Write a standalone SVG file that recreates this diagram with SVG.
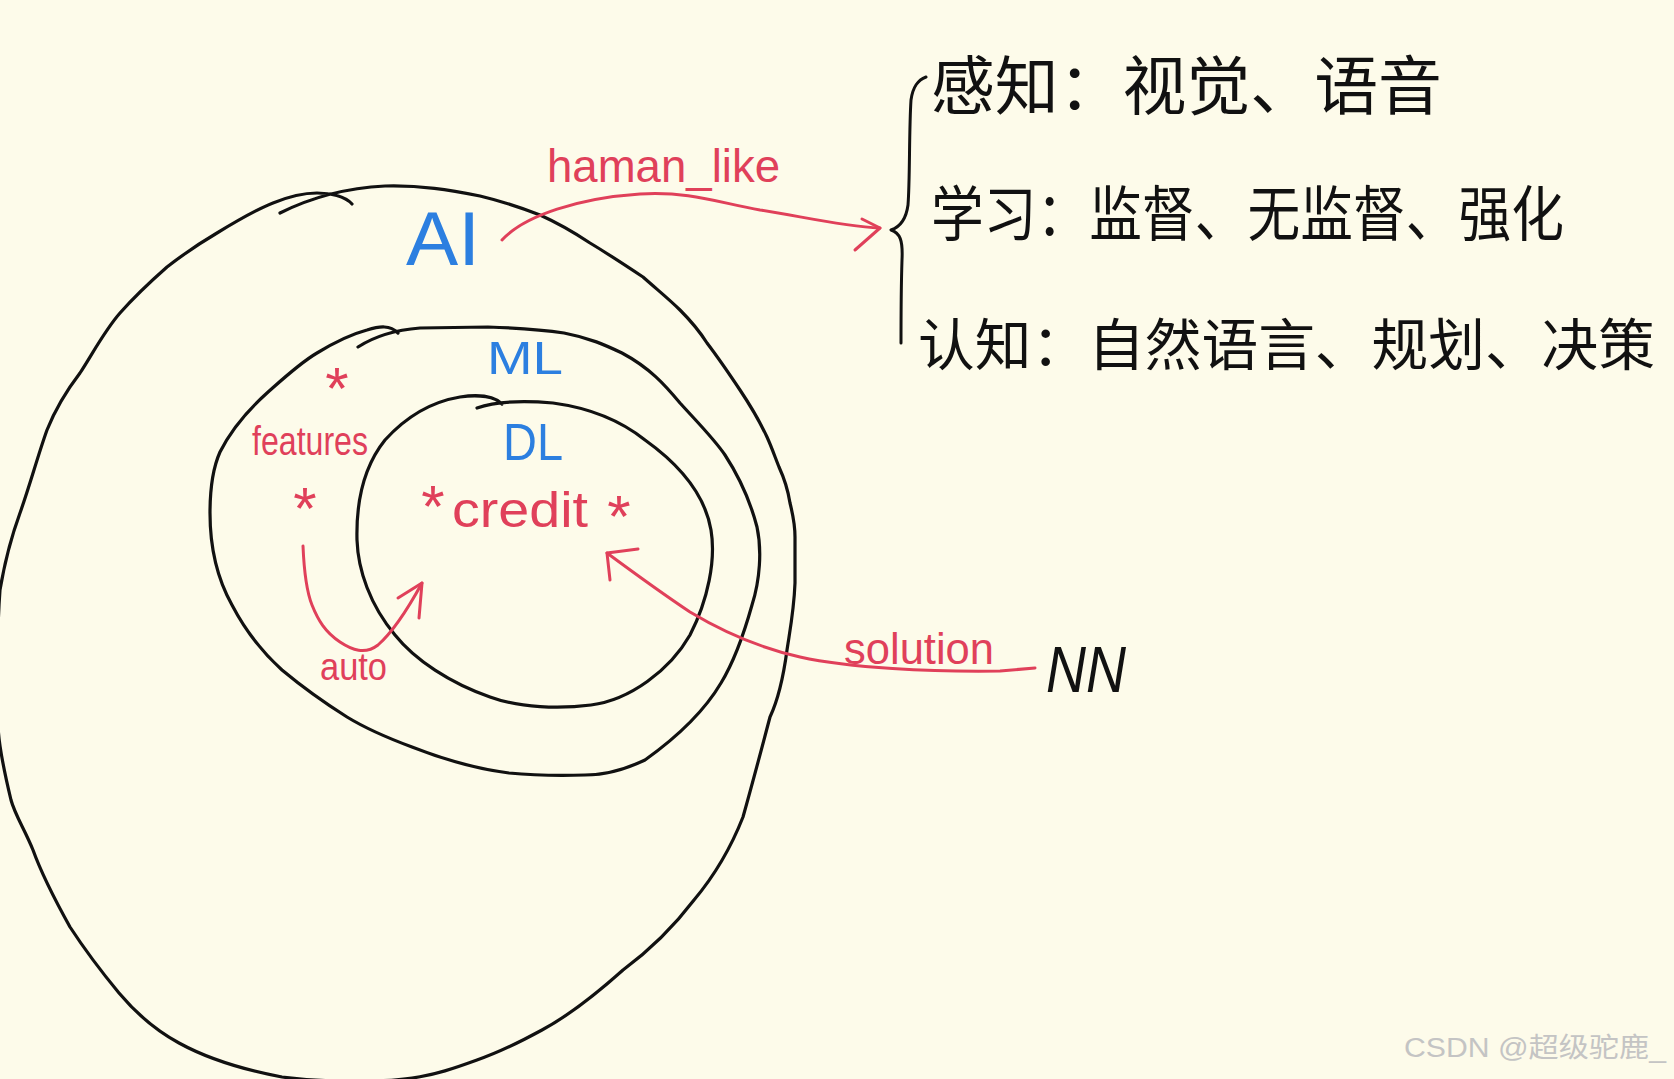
<svg xmlns="http://www.w3.org/2000/svg" width="1674" height="1079" viewBox="0 0 1674 1079">
<defs>
<style>
.ring{fill:none;stroke:#111;stroke-width:3.2;stroke-linecap:round;stroke-linejoin:round}
.red{fill:none;stroke:#e0405a;stroke-width:3;stroke-linecap:round;stroke-linejoin:round}
.blk{fill:none;stroke:#111;stroke-width:3;stroke-linecap:round;stroke-linejoin:round}
.blue{fill:#2c7fe0;font-family:"Liberation Sans",Arial,sans-serif}
.rt{fill:#e0405a;font-family:"Liberation Sans",Arial,sans-serif}
.star{fill:#e0405a;font-family:"Liberation Sans",Arial,sans-serif;font-size:60px;text-anchor:middle}
.cjk{fill:#111;font-family:"Liberation Sans","Noto Sans CJK SC",sans-serif}
.wm{fill:#c4c4c4;font-family:"Liberation Sans","Noto Sans CJK SC",sans-serif;font-size:27px}
</style>
</defs>
<rect width="1674" height="1079" fill="#fdfbea"/>

<g id="ai">
<path class="ring" d="M280,213 C310,198 345,188 385,186 C420,185 450,190 480,196 C505,202 522,208 540,215 C560,224 575,233 590,243 C610,255 625,265 643,277 C660,292 670,300 680,310 C692,322 700,332 707,343 C720,360 730,375 740,390 C752,408 760,422 767,437 C772,448 775,457 779,467 C785,480 788,490 790,503 C793,515 795,525 795,537 L795,583 C794,610 790,630 787,650 C783,680 778,700 770,717 C760,755 752,785 743,817 C730,850 715,875 694,900 C675,925 650,950 623,970 C595,995 570,1015 542,1030 C520,1042 500,1052 477,1060 C455,1068 435,1075 412,1078 C385,1082 330,1083 282,1077 C245,1070 210,1060 179,1043 C155,1030 135,1012 119,993 C100,970 85,950 70,927 C55,900 42,875 33,850 C25,830 15,815 11,800 C5,775 -2,745 -2,723 C-3,680 -3,630 0,590 C5,560 12,535 20,513 C30,485 38,455 47,430 C55,410 67,390 80,373 C93,353 105,330 120,313 C135,296 150,282 167,267 C185,253 200,243 217,233 C235,222 255,210 273,203 C290,196 305,193 317,193 C330,193 345,196 352,204"/>
<text class="blue" x="406" y="265" font-size="76" textLength="74" lengthAdjust="spacingAndGlyphs">AI</text>
</g>

<g id="ml">
<path class="ring" d="M358,347 C375,336 395,330 420,328 L488,327 C520,328 545,330 564,333 C590,338 605,345 622,353 C650,368 665,385 680,403 C700,425 715,440 725,455 C740,478 750,500 757,527 C762,550 760,580 752,605 C745,630 735,660 721,683 C705,710 680,735 645,760 C620,772 600,775 585,775 C550,776 530,775 509,773 C470,768 440,758 412,747 C385,737 365,728 347,717 C320,700 300,685 282,670 C260,650 245,630 232,605 C218,580 210,550 210,513 C210,490 212,470 220,452 C232,428 248,410 267,393 C285,377 300,363 317,353 C335,342 352,334 367,330 C380,326 390,325 398,333"/>
<text class="blue" x="487" y="374" font-size="46" textLength="76" lengthAdjust="spacingAndGlyphs">ML</text>
</g>

<g id="dl">
<path class="ring" d="M477,408 C500,400 530,401 553,403 C590,408 620,420 645,440 C680,465 705,495 711,530 C716,560 708,600 690,635 C670,670 630,700 591,705 C560,709 520,708 490,697 C450,683 415,660 395,635 C370,605 358,570 357,540 C356,500 365,465 385,440 C405,418 430,402 460,397 C480,394 495,397 502,404"/>
<text class="blue" x="503" y="460" font-size="52" textLength="60" lengthAdjust="spacingAndGlyphs">DL</text>
</g>

<g id="features">
<text class="star" x="337" y="409">*</text>
<text class="rt" x="252" y="455" font-size="40" textLength="116" lengthAdjust="spacingAndGlyphs">features</text>
<text class="star" x="305" y="529">*</text>
</g>

<g id="credit">
<text class="star" x="433" y="527">*</text>
<text class="rt" x="452" y="527" font-size="50" textLength="136" lengthAdjust="spacingAndGlyphs">credit</text>
<text class="star" x="619" y="537">*</text>
</g>

<g id="nn">
<text x="1046" y="692" fill="#111" font-family="Liberation Sans, Arial, sans-serif" font-style="italic" font-size="64" textLength="80" lengthAdjust="spacingAndGlyphs">NN</text>
</g>

<g id="categories">
<path class="blk" d="M926,77 C918,80 913,86 911,100 C909,130 910,180 908,205 C906,220 900,227 891,230 C900,233 903,240 902,260 C901,290 901,320 901,343"/>
<text class="cjk" x="931" y="109" font-size="64" textLength="511" lengthAdjust="spacingAndGlyphs">感知：视觉、语音</text>
<text class="cjk" x="931" y="236" font-size="60" textLength="633" lengthAdjust="spacingAndGlyphs">学习：监督、无监督、强化</text>
<text class="cjk" x="918" y="365" font-size="56" textLength="737" lengthAdjust="spacingAndGlyphs">认知：自然语言、规划、决策</text>
</g>

<g id="connectors">
<g id="edge-haman">
<path class="red" d="M502,240 C525,215 580,198 640,194 C690,191 720,203 760,210 C800,216 840,226 880,228"/>
<path class="red" d="M862,219 L880,228 L855,250"/>
<text class="rt" x="547" y="182" font-size="46" textLength="233" lengthAdjust="spacingAndGlyphs">haman_like</text>
</g>
<g id="edge-auto">
<path class="red" d="M303,546 C304,570 306,590 312,605 C318,620 325,632 340,642 C352,650 365,655 378,645 C395,630 410,605 422,583"/>
<path class="red" d="M398,598 L422,583 L419,618"/>
<text class="rt" x="320" y="680" font-size="38" textLength="67" lengthAdjust="spacingAndGlyphs">auto</text>
</g>
<g id="edge-solution">
<path class="red" d="M1035,668 L1000,671 C930,672 850,668 800,657 C760,648 720,630 690,612 C660,592 630,570 607,553"/>
<path class="red" d="M638,549 L607,553 L610,580"/>
<text class="rt" x="844" y="664" font-size="44" textLength="150" lengthAdjust="spacingAndGlyphs">solution</text>
</g>
</g>

<text class="wm" x="1404" y="1057" textLength="262" lengthAdjust="spacingAndGlyphs">CSDN @超级驼鹿_</text>
</svg>
